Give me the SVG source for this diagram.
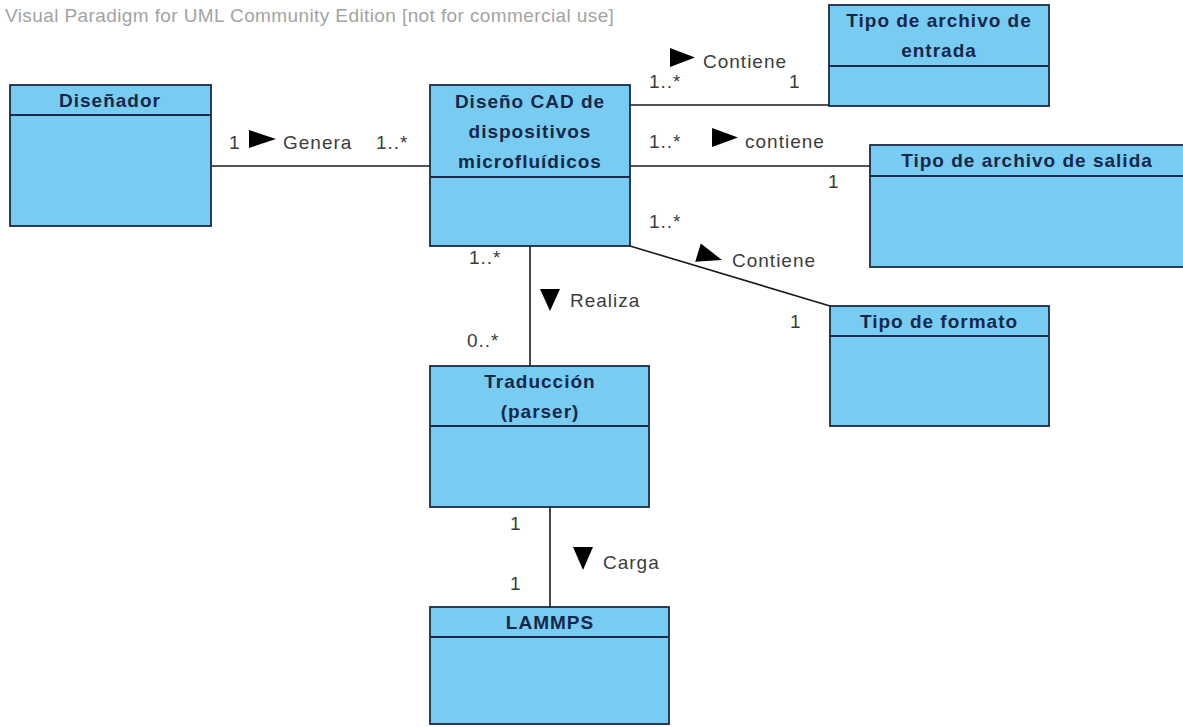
<svg xmlns="http://www.w3.org/2000/svg" width="1183" height="727" viewBox="0 0 1183 727">
<style>
.box{fill:#79CCF1;stroke:#1B2A45;stroke-width:1.8}
.div{stroke:#1B2A45;stroke-width:1.8}
.title{font-family:"Liberation Sans",Arial,sans-serif;font-size:19px;font-weight:bold;fill:#15284A;text-anchor:middle;letter-spacing:1px}
.lbl{font-family:"Liberation Sans",Arial,sans-serif;font-size:19px;fill:#3C3C3C;letter-spacing:1px}
.wm{font-family:"Liberation Sans",Arial,sans-serif;font-size:19px;fill:#A3A3A3;letter-spacing:0.4px}
.ln{stroke:#1A1A1A;stroke-width:1.6;fill:none}
.tri{fill:#000}
</style>
<rect width="1183" height="727" fill="#fff"/>
<text class="wm" x="5" y="22">Visual Paradigm for UML Community Edition [not for commercial use]</text>

<g id="connectors">
<line class="ln" x1="211" y1="166" x2="430" y2="166"/>
<line class="ln" x1="630" y1="105" x2="829" y2="105"/>
<line class="ln" x1="630" y1="166" x2="870" y2="166"/>
<line class="ln" x1="630" y1="246" x2="830" y2="306"/>
<line class="ln" x1="530" y1="246" x2="530" y2="366"/>
<line class="ln" x1="550" y1="507" x2="550" y2="607"/>

<text class="lbl" x="229" y="149">1</text>
<polygon class="tri" points="249,130 276,139 249,148"/>
<text class="lbl" x="283" y="149">Genera</text>
<text class="lbl" x="376" y="149">1..*</text>

<text class="lbl" x="649" y="88">1..*</text>
<polygon class="tri" points="670,48 695,57.5 670,67"/>
<text class="lbl" x="703" y="68">Contiene</text>
<text class="lbl" x="789" y="88">1</text>

<text class="lbl" x="649" y="148">1..*</text>
<polygon class="tri" points="712,128 738,137.5 712,147"/>
<text class="lbl" x="745" y="148">contiene</text>
<text class="lbl" x="828" y="188">1</text>

<text class="lbl" x="649" y="228">1..*</text>
<polygon class="tri" points="700.8,243.6 722,260 695.2,261.8"/>
<text class="lbl" x="732" y="267">Contiene</text>
<text class="lbl" x="790" y="328">1</text>

<text class="lbl" x="469" y="264">1..*</text>
<polygon class="tri" points="540,289 560,289 550,311"/>
<text class="lbl" x="570" y="307">Realiza</text>
<text class="lbl" x="467" y="347">0..*</text>

<text class="lbl" x="510" y="530">1</text>
<polygon class="tri" points="573,547 593,547 583,570"/>
<text class="lbl" x="603" y="569">Carga</text>
<text class="lbl" x="510" y="590">1</text>
</g>

<g id="disenador">
<rect class="box" x="10" y="85" width="201" height="141"/>
<line class="div" x1="10" y1="115" x2="211" y2="115"/>
<text class="title" x="110" y="107">Diseñador</text>
</g>

<g id="cad">
<rect class="box" x="430" y="85" width="200" height="161"/>
<line class="div" x1="430" y1="177" x2="630" y2="177"/>
<text class="title" x="530" y="108">Diseño CAD de</text>
<text class="title" x="530" y="138">dispositivos</text>
<text class="title" x="530" y="168">microfluídicos</text>
</g>

<g id="entrada">
<rect class="box" x="829" y="5" width="220" height="101"/>
<line class="div" x1="829" y1="66" x2="1049" y2="66"/>
<text class="title" x="939" y="27">Tipo de archivo de</text>
<text class="title" x="939" y="57">entrada</text>
</g>

<g id="salida">
<rect class="box" x="870" y="145" width="316" height="122"/>
<line class="div" x1="870" y1="176" x2="1186" y2="176"/>
<text class="title" x="1027" y="167">Tipo de archivo de salida</text>
</g>

<g id="formato">
<rect class="box" x="830" y="306" width="219" height="120"/>
<line class="div" x1="830" y1="336" x2="1049" y2="336"/>
<text class="title" x="939" y="328">Tipo de formato</text>
</g>

<g id="traduccion">
<rect class="box" x="430" y="366" width="219" height="141"/>
<line class="div" x1="430" y1="426" x2="649" y2="426"/>
<text class="title" x="540" y="388">Traducción</text>
<text class="title" x="540" y="418">(parser)</text>
</g>

<g id="lammps">
<rect class="box" x="430" y="607" width="239" height="117"/>
<line class="div" x1="430" y1="637" x2="669" y2="637"/>
<text class="title" x="550" y="629">LAMMPS</text>
</g>
</svg>
